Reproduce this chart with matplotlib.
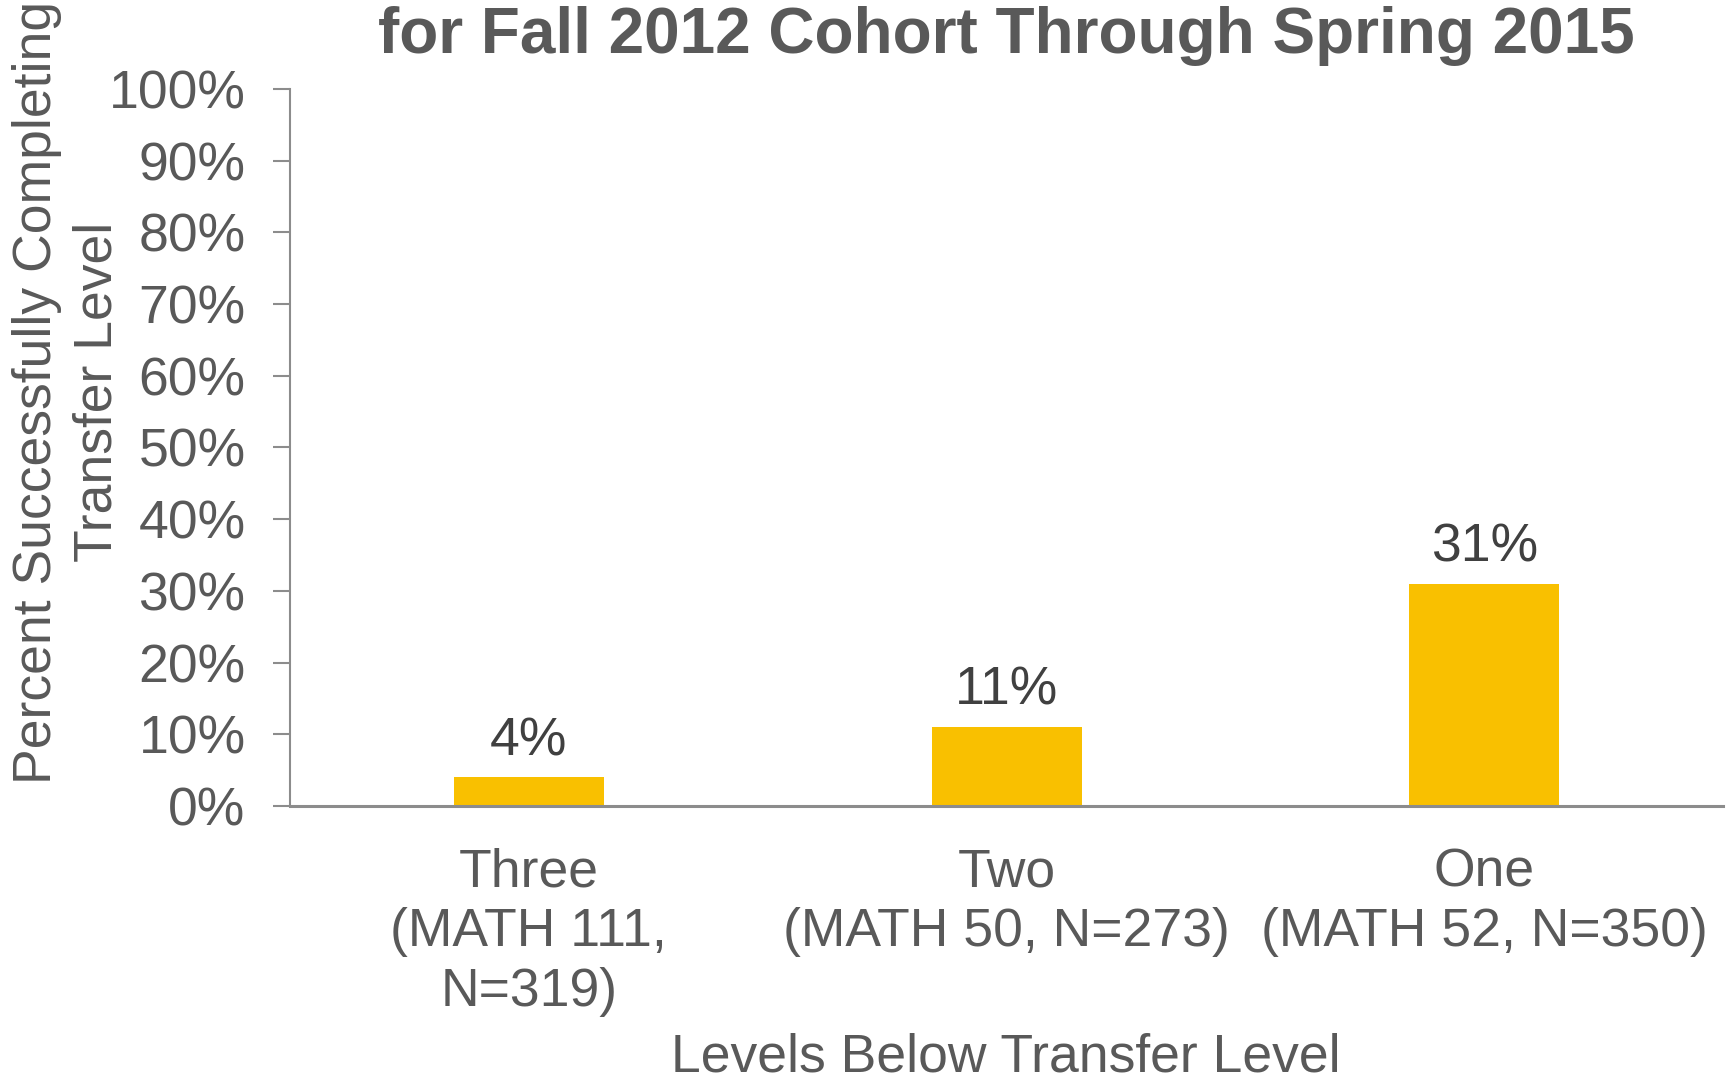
import matplotlib.pyplot as plt

# ---- data ----
levels = ["Three\n(MATH 111,\nN=319)", "Two\n(MATH 50, N=273)", "One\n(MATH 52, N=350)"]
pct_complete = [4, 11, 31]
y_ticks = [0, 10, 20, 30, 40, 50, 60, 70, 80, 90, 100]

bar_color = '#F9C000'
grey = '#595959'
axis_grey = '#8C8C8C'
fs = 38.5

plt.rcParams['font.family'] = ['Liberation Sans', 'DejaVu Sans']

fig = plt.figure(figsize=(17.3, 10.83), dpi=100)
ax = fig.add_axes([0.1676, 0.2558, 0.996 - 0.1676, 0.9178 - 0.2558])

x = range(len(levels))
ax.bar(x, pct_complete, width=0.314, color=bar_color, zorder=2)

# value labels over each bar
for xi, v in zip(x, pct_complete):
    ax.annotate(f"{v}%", (xi, v), xytext=(0, 16), textcoords='offset points',
                ha='center', va='baseline', fontsize=fs, color='#404040')

ax.set_xlim(-0.5, 2.5)
ax.set_ylim(0, 100)
ax.set_yticks(y_ticks)
ax.set_yticklabels([f"{t}%" for t in y_ticks])
ax.set_xticks(list(x))
ax.set_xticklabels(levels, linespacing=1.25)

ax.tick_params(axis='y', length=12, width=1.5, color=axis_grey, labelsize=fs,
               labelcolor=grey, pad=20)
ax.tick_params(axis='x', length=0, labelsize=fs, labelcolor=grey, pad=30)

for side in ['top', 'right']:
    ax.spines[side].set_visible(False)
ax.spines['left'].set_color(axis_grey)
ax.spines['left'].set_linewidth(1.5)
ax.spines['bottom'].set_color(axis_grey)
ax.spines['bottom'].set_linewidth(2.2)

# title (second line of a two-line heading)
fig.text(0.5815, 1 - 53 / 1083, "for Fall 2012 Cohort Through Spring 2015",
         ha='center', va='baseline', fontsize=46, fontweight='bold', color=grey)

# y label, two lines drawn separately
fig.text(0.0215, 0.638, "Percent Successfully Completing",
         rotation=90, ha='center', va='center', fontsize=fs, color=grey)
fig.text(0.0561, 0.638, "Transfer Level",
         rotation=90, ha='center', va='center', fontsize=fs, color=grey)

fig.text(0.5815, 1 - 1071 / 1083, "Levels Below Transfer Level",
         ha='center', va='baseline', fontsize=fs, color=grey)

fig.savefig('out.png', dpi=100)
